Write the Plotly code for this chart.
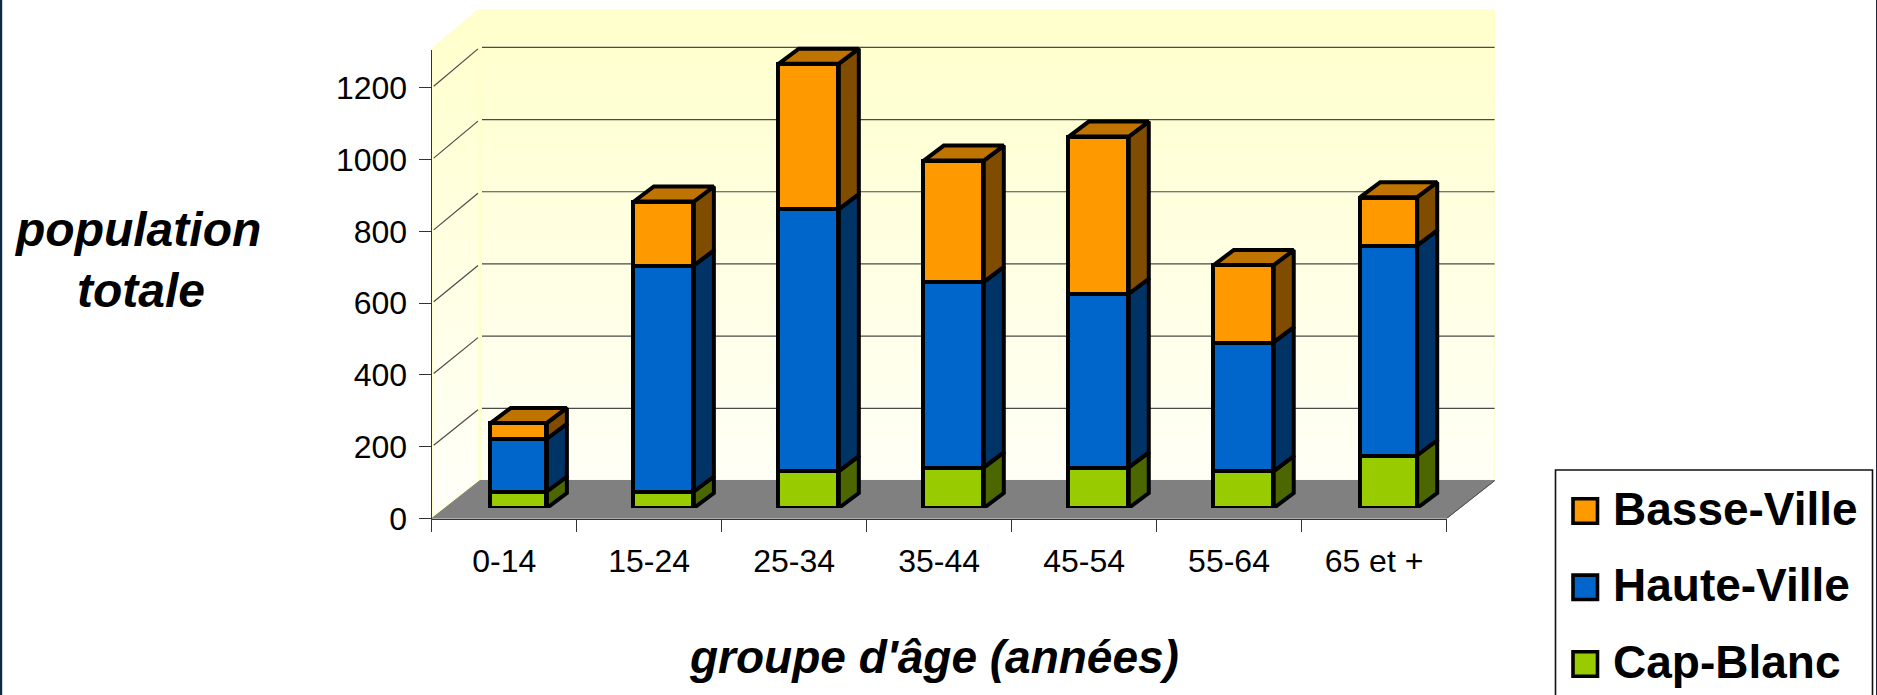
import plotly.graph_objects as go

# ---- data ----
age_groups = ["0-14", "15-24", "25-34", "35-44", "45-54", "55-64", "65 et +"]
cap_blanc = [46, 46, 103, 113, 113, 103, 147]
haute_ville = [147, 630, 730, 517, 484, 359, 585]
basse_ville = [44, 178, 405, 338, 438, 215, 134]
y_ticks = [0, 200, 400, 600, 800, 1000, 1200]
series_names = ["Cap-Blanc", "Haute-Ville", "Basse-Ville"]

# ---- layout geometry (pixels) ----
W, H = 1877, 695
AX_L, AX_R = 431.7, 1446.5     # front floor edge
Y0_PX = 518.5                  # value 0 at the front
PX_PER_UNIT = 0.3589
Y_MAX = 1305
N = len(age_groups)
PX_PER_CAT = (AX_R - AX_L) / N
WALL_DX, WALL_DY = 48.3, 38.0  # depth of the box
BACK_K = 1.0056                # the back wall is drawn very slightly larger
BAR_DX, BAR_DY = 14.7, 10.5    # plane of the bar fronts
SIDE_DX, SIDE_DY = 20.0, 15.0  # depth of a bar
BAR_W_PX = [56, 60, 60, 60, 60, 60, 57]

FONT = "Liberation Sans"
FRONT = ["#99CC00", "#0066CC", "#FF9900"]
SIDE = ["#4C6600", "#003366", "#7F4C00"]
TOP = "#BF7300"
EDGE = "#000000"
GRID = "#4a4a4a"
BAR_LINE = 4

xu = lambda px: px / PX_PER_CAT
yu = lambda px: px / PX_PER_UNIT
xp = lambda px: px / W
yp = lambda py: 1 - py / H

dx_w, dy_w = xu(WALL_DX), yu(WALL_DY)
x_lo, x_hi = -0.5, N - 0.5
wall_top = Y_MAX * BACK_K + dy_w

fig = go.Figure()
no_hover = dict(hoverinfo="skip", showlegend=False, cliponaxis=False)
wall_grad = dict(type="vertical", start=0, stop=wall_top,
                 colorscale=[[0, "#FFFFFA"], [1, "#FFFFCC"]])

# the box is drawn on its own hidden axis pair (x, y), large enough to hold the walls
# left wall
fig.add_trace(go.Scatter(
    x=[x_lo, x_lo, x_lo + dx_w, x_lo + dx_w, x_lo],
    y=[0, Y_MAX, wall_top, dy_w, 0],
    mode="lines", line=dict(color="#FFFFCC", width=3), fill="toself",
    fillgradient=wall_grad, **no_hover))
# back wall
fig.add_trace(go.Scatter(
    x=[x_lo + dx_w, x_lo + dx_w, x_hi + dx_w, x_hi + dx_w, x_lo + dx_w],
    y=[dy_w, wall_top, wall_top, dy_w, dy_w],
    mode="lines", line=dict(color="#FFFFCC", width=3), fill="toself",
    fillgradient=wall_grad, **no_hover))
# floor
fig.add_trace(go.Scatter(
    x=[x_lo, x_hi, x_hi + dx_w, x_lo + dx_w, x_lo], y=[0, 0, dy_w, dy_w, 0],
    mode="lines", line=dict(color="#808080", width=1), fill="toself",
    fillcolor="#808080", **no_hover))

# gridlines on the walls
gx, gy = [], []
for v in y_ticks[1:]:
    vb = v * BACK_K + dy_w
    gx += [x_lo + xu(2), x_lo + dx_w - xu(2), None, x_lo + dx_w + xu(2), x_hi + dx_w, None]
    gy += [v + yu(1.5), vb - yu(1.5), None, vb, vb, None]
fig.add_trace(go.Scatter(x=gx, y=gy, mode="lines",
                         line=dict(color=GRID, width=1.2), **no_hover))
# right edge of floor
fig.add_trace(go.Scatter(x=[x_hi, x_hi + dx_w], y=[0, dy_w], mode="lines",
                         line=dict(color=GRID, width=1), **no_hover))

# front axes only carry the ticks; an invisible trace anchors them
fig.add_trace(go.Scatter(x=[x_lo, x_hi], y=[0, 0], xaxis="x2", yaxis="y2", mode="lines",
                         line=dict(color="rgba(0,0,0,0)", width=0), **no_hover))

# bars: fronts on an axis pair shifted to the plane of the bars
series = [cap_blanc, haute_ville, basse_ville]
half = [xu(w) / 2 for w in BAR_W_PX]
for name, vals, col in zip(series_names, series, FRONT):
    fig.add_trace(go.Bar(
        x=list(range(N)), y=vals, name=name, xaxis="x3", yaxis="y3",
        width=[2 * h for h in half], cliponaxis=False, showlegend=False,
        marker=dict(color=col, line=dict(color=EDGE, width=BAR_LINE)),
        hovertemplate=name + " %{customdata}: %{y}<extra></extra>",
        customdata=age_groups))

# side and top faces of the bars, derived from the same values
dx_s, dy_s = xu(SIDE_DX), yu(SIDE_DY)
tops = [0] * N
for vals, col in zip(series, SIDE):
    sx, sy = [], []
    for i, v in enumerate(vals):
        xr = i + half[i]
        b, t = tops[i], tops[i] + v
        sx += [xr, xr + dx_s, xr + dx_s, xr, xr, None]
        sy += [b, b + dy_s, t + dy_s, t, b, None]
        tops[i] = t
    fig.add_trace(go.Scatter(
        x=sx, y=sy, xaxis="x3", yaxis="y3", mode="lines", fill="toself",
        fillcolor=col, line=dict(color=EDGE, width=BAR_LINE, shape="linear"), **no_hover))
tx, ty = [], []
for i, t in enumerate(tops):
    xl, xr = i - half[i], i + half[i]
    tx += [xl, xr, xr + dx_s, xl + dx_s, xl, None]
    ty += [t, t, t + dy_s, t + dy_s, t, None]
fig.add_trace(go.Scatter(
    x=tx, y=ty, xaxis="x3", yaxis="y3", mode="lines", fill="toself",
    fillcolor=TOP, line=dict(color=EDGE, width=BAR_LINE), **no_hover))

# ---- legend box and labels ----
lx0, lx1, ly1 = xp(1555.5), xp(1872.5), yp(470)
shapes = [
    dict(type="path", xref="paper", yref="paper",
         path=f"M {lx0} 0 L {lx0} {ly1} L {lx1} {ly1} L {lx1} 0",
         line=dict(color="#111111", width=1.6)),
    dict(type="rect", xref="paper", yref="paper", x0=0, x1=xp(2.2), y0=0, y1=1,
         line=dict(width=0), fillcolor="#0B2A4A"),
    dict(type="rect", xref="paper", yref="paper", x0=xp(1876), x1=1, y0=0, y1=1,
         line=dict(width=0), fillcolor="#1a2a3a"),
]
annotations = []
legend_rows = [("Basse-Ville", "#FF9900", 511), ("Haute-Ville", "#0066CC", 587.3),
               ("Cap-Blanc", "#99CC00", 664)]
for name, col, cy in legend_rows:
    shapes.append(dict(type="rect", xref="paper", yref="paper",
                       x0=xp(1573), x1=xp(1597.5), y0=yp(cy + 12.2), y1=yp(cy - 12.2),
                       line=dict(color="black", width=3.6), fillcolor=col))
    annotations.append(dict(xref="paper", yref="paper", x=xp(1611), y=yp(cy - 2.5),
                            text=name, showarrow=False, xanchor="left", yanchor="middle",
                            font=dict(family=FONT, size=46, color="black", weight="bold")))

title_font = dict(family=FONT, size=46, color="black", weight="bold", style="italic")
ytitle_font = dict(family=FONT, size=48, color="black", weight="bold", style="italic")
annotations += [
    dict(xref="paper", yref="paper", x=xp(137), y=yp(230), text="population", showarrow=False,
         xanchor="center", yanchor="middle", font=ytitle_font),
    dict(xref="paper", yref="paper", x=xp(141), y=yp(290.5), text="totale", showarrow=False,
         xanchor="center", yanchor="middle", font=ytitle_font),
    dict(xref="paper", yref="paper", x=xp(934), y=yp(657), text="groupe d'âge (années)",
         showarrow=False, xanchor="center", yanchor="middle", font=title_font),
]

tick_font = dict(family=FONT, size=32, color="#000000")
axis_h = Y_MAX * PX_PER_UNIT
wall_h = wall_top * PX_PER_UNIT
fig.update_layout(
    width=W, height=H, autosize=False,
    margin=dict(l=0, r=0, t=0, b=0, pad=0, autoexpand=False),
    paper_bgcolor="white", plot_bgcolor="rgba(0,0,0,0)",
    barmode="stack", bargap=0, showlegend=False, shapes=shapes, annotations=annotations,
    xaxis=dict(
        domain=[xp(AX_L), xp(AX_R + WALL_DX)], range=[x_lo, x_hi + dx_w], visible=False,
        anchor="y",
    ),
    yaxis=dict(
        domain=[yp(Y0_PX), yp(Y0_PX - wall_h)], range=[0, wall_top],
        visible=False, anchor="x",
    ),
    xaxis2=dict(
        domain=[xp(AX_L), xp(AX_R)], range=[x_lo, x_hi], tickmode="array",
        tickvals=list(range(N)), ticktext=age_groups, ticks="", tickfont=tick_font,
        ticklabelstandoff=14, showgrid=False, zeroline=False, showline=True,
        linecolor="#333333", linewidth=1.3, anchor="y2",
        minor=dict(tickmode="array", tickvals=[i - 0.5 for i in range(N + 1)],
                   ticks="outside", ticklen=12, tickwidth=1.2, tickcolor="#333333",
                   showgrid=False),
    ),
    yaxis2=dict(
        domain=[yp(Y0_PX), yp(Y0_PX - axis_h)], range=[0, Y_MAX], tickmode="array",
        tickvals=y_ticks, ticks="outside", ticklen=12, tickwidth=1.2, tickcolor="#333333",
        tickfont=tick_font, ticklabelstandoff=5, showgrid=False, zeroline=False,
        showline=True, linecolor="#333333", linewidth=1.3, anchor="x2",
    ),
    xaxis3=dict(
        domain=[xp(AX_L + BAR_DX), xp(AX_R + BAR_DX)], range=[x_lo, x_hi], visible=False,
        anchor="y3",
    ),
    yaxis3=dict(
        domain=[yp(Y0_PX - BAR_DY), yp(Y0_PX - BAR_DY - axis_h)], range=[0, Y_MAX],
        visible=False, anchor="x3",
    ),
)

fig.write_html(
    "out.html",
    config=dict(displayModeBar=False),
    post_script="document.body.style.margin='0';document.body.style.overflow='hidden';",
)
